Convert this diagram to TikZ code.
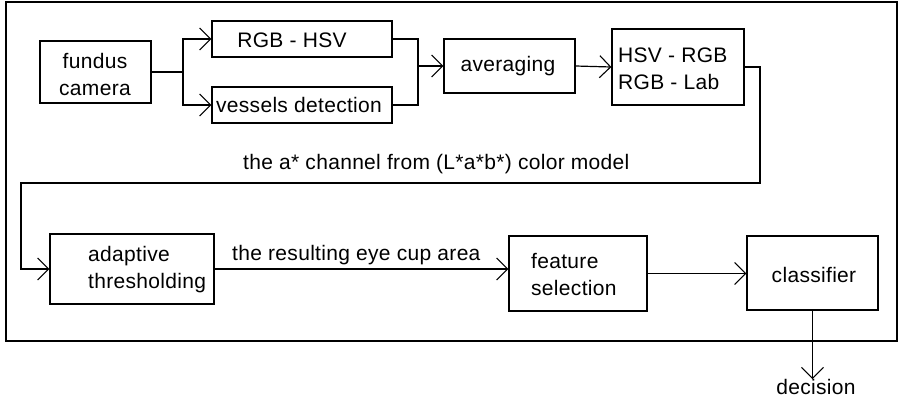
\documentclass[tikz,border=0pt]{standalone}
\usepackage{fontspec}
\setmainfont{Liberation Sans}[LetterSpace=1.5]
\usetikzlibrary{arrows.meta}
\begin{document}
\begin{tikzpicture}[x=1pt,y=-1pt,
  every node/.style={font=\fontsize{21}{27}\selectfont, inner sep=0pt},
  box/.style={draw, line width=1.2pt, rectangle},
  conn/.style={line width=1.2pt},
  arr/.style={conn, -{Straight Barb[length=11pt,width=22pt,line width=1.1pt]}}]
\useasboundingbox (0,0) rectangle (898,400);
% outer frame
\draw[line width=1.2pt] (6,2) rectangle (897,341);

% processing blocks
\node[box, minimum width=111pt, minimum height=62pt] (fund) at (95.5,72) {};
\node[box, minimum width=180pt, minimum height=36pt] (rgb) at (302,39) {};
\node[box, minimum width=180pt, minimum height=36pt] (ves) at (302,105) {};
\node[box, minimum width=131pt, minimum height=54pt] (avg) at (509.5,66) {};
\node[box, minimum width=132pt, minimum height=76pt] (hsv) at (678,67) {};
\node[box, minimum width=164pt, minimum height=70pt] (adapt) at (132,269) {};
\node[box, minimum width=138pt, minimum height=75pt] (feat) at (578,273.5) {};
\node[box, minimum width=131pt, minimum height=74pt] (cls) at (812.5,273) {};

% block texts
\node[align=center] (tfund) at (95,74) {fundus\\camera};
\node (trgb) at (292,40) {RGB - HSV};
\node (tves) at (299,105) {vessels detection};
\node (tavg) at (508,66) {averaging};
\node[align=left, anchor=west] (thsv) at (618,69) {HSV - RGB\\RGB - Lab};
\node[align=left, anchor=west] (tadapt) at (88,270) {adaptive\\thresholding};
\node[align=left, anchor=west] (tfeat) at (531,274) {feature\\selection};
\node (tcls) at (814,275) {classifier};
\node (dec) at (816,387) {decision};

% connector labels
\node[anchor=base west] (lab1) at (243,169) {the a* channel from (L*a*b*) color model};
\node[anchor=base west] (lab2) at (232,260) {the resulting eye cup area};

% routing points
\coordinate (split) at (183,72);
\coordinate (join) at (418,66);
\coordinate (c1) at (760,183);
\coordinate (c2) at (21,183);

% connectors
\draw[conn] (fund.east) -- (split);
\draw[arr] (split) |- (rgb.west);
\draw[arr] (split) |- (ves.west);
\draw[conn] (rgb.east) -| (join);
\draw[conn] (ves.east) -| (join);
\draw[arr] (join) -- (avg.west);
\draw[arr] (avg.east) -- (hsv.west);
\draw[arr] (hsv.east) -| (c1) -- (c2) |- (adapt.west);
\draw[arr] (adapt.east) -- (adapt.east -| feat.west);
\draw[arr] (feat.east) -- (feat.east -| cls.west);
\draw[arr] (cls.south) -- (cls.south |- dec.north);
\end{tikzpicture}
\end{document}
